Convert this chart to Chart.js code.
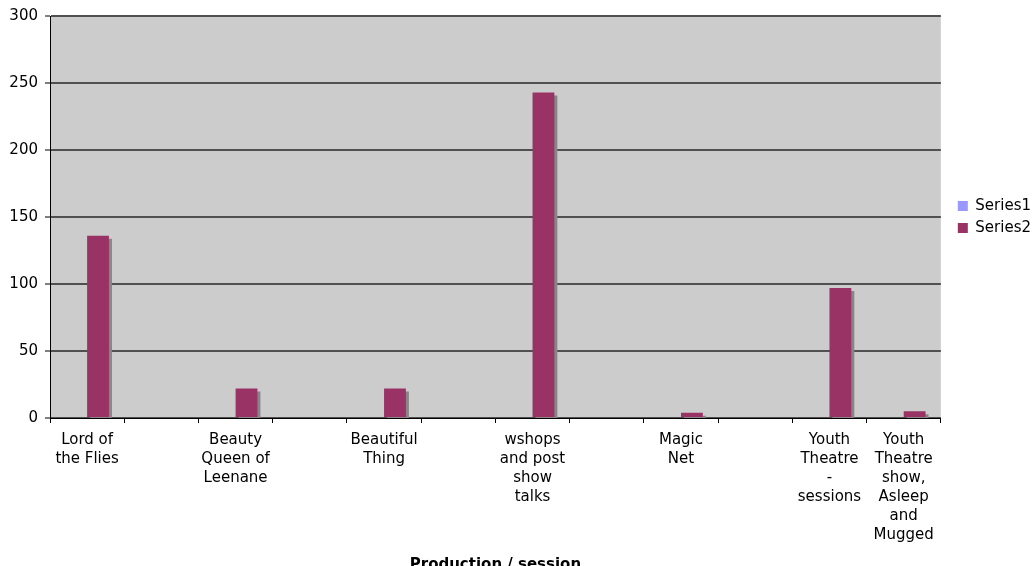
<!DOCTYPE html>
<html>
<head>
<meta charset="utf-8">
<script src="https://cdn.jsdelivr.net/npm/chart.js@4/dist/chart.umd.min.js"></script>
<style>
  html, body { margin: 0; padding: 0; background: #fff; }
  #wrap { width: 1032px; height: 566px; position: relative; }
</style>
</head>
<body>
<div id="wrap"><canvas id="chart"></canvas></div>
<script>
const categories = [
  ["Lord of", "the Flies"], "",
  ["Beauty", "Queen of", "Leenane"], "",
  ["Beautiful", "Thing"], "",
  ["wshops", "and post", "show", "talks"], "",
  ["Magic", "Net"], "",
  ["Youth", "Theatre", "-", "sessions"],
  ["Youth", "Theatre", "show,", "Asleep", "and", "Mugged"]
];
const series1 = [null, null, null, null, null, null, null, null, null, null, null, null];
const series2 = [136, null, 22, null, 22, null, 243, null, 4, null, 97, 5];
const seriesNames = ["Series1", "Series2"];
const xTitle = "Production / session";

const FONT = "'DejaVu Sans', Verdana, sans-serif";

// grey plot area behind the bars
const plotBg = {
  id: "plotBg",
  beforeDraw(chart) {
    const a = chart.chartArea, ctx = chart.ctx;
    ctx.save();
    ctx.fillStyle = "#cccccc";
    ctx.fillRect(a.left, a.top, a.right - a.left, a.bottom - a.top);
    ctx.restore();
  },
  afterLayout(chart) {
    // legend sits a bit right of the plot and is centred on it, like the Excel original
    const lg = chart.legend, a = chart.chartArea;
    const dx = a.right + 10 - lg.left;
    lg.left += dx;
    lg.right += dx;
    const dy = ((a.top + a.bottom) - (lg.top + lg.bottom)) / 2;
    lg.top += dy;
    lg.bottom += dy;
  }
};

// hard drop shadow under the bars
const barShadow = {
  id: "barShadow",
  beforeDatasetsDraw(chart) {
    const ctx = chart.ctx;
    ctx.save();
    ctx.shadowColor = "#868686";
    ctx.shadowOffsetX = 3;
    ctx.shadowOffsetY = 3;
    ctx.shadowBlur = 0;
  },
  afterDatasetsDraw(chart) {
    chart.ctx.restore();
  }
};

new Chart(document.getElementById("chart"), {
  type: "bar",
  data: {
    labels: categories,
    datasets: [
      { label: seriesNames[0], data: series1, backgroundColor: "#9999ff", borderWidth: 0 },
      { label: seriesNames[1], data: series2, backgroundColor: "#993366", borderWidth: 0 }
    ]
  },
  options: {
    responsive: true,
    maintainAspectRatio: false,
    animation: false,
    categoryPercentage: 1 / 1.7,
    barPercentage: 1,
    layout: { padding: { top: 14, left: 0, right: 1, bottom: 0 } },
    plugins: {
      legend: {
        position: "right",
        labels: {
          boxWidth: 10,
          boxHeight: 10,
          padding: 7,
          color: "#000",
          font: { family: FONT, size: 15 }
        }
      },
      tooltip: { enabled: false }
    },
    scales: {
      x: {
        grid: { drawOnChartArea: false, drawTicks: true, tickLength: 5, tickColor: "#000", offset: true },
        border: { color: "#000", width: 1 },
        ticks: {
          color: "#000",
          autoSkip: false,
          maxRotation: 0,
          padding: 8,
          font: { family: FONT, size: 15, lineHeight: "19px" }
        },
        title: {
          display: true,
          text: xTitle,
          color: "#000",
          padding: { top: 0, bottom: -8 },
          font: { family: FONT, size: 15, weight: "bold" }
        },
        afterFit(s) { s.height = 148; }
      },
      y: {
        min: 0,
        max: 300,
        ticks: {
          stepSize: 50,
          color: "#000",
          padding: 7,
          font: { family: FONT, size: 15 }
        },
        grid: { color: "#505050", lineWidth: 2, tickColor: "#000", tickLength: 5, tickWidth: 1 },
        border: { color: "#000", width: 1 },
        afterFit(s) { s.width = 50; }
      }
    }
  },
  plugins: [plotBg, barShadow]
});
</script>
</body>
</html>
